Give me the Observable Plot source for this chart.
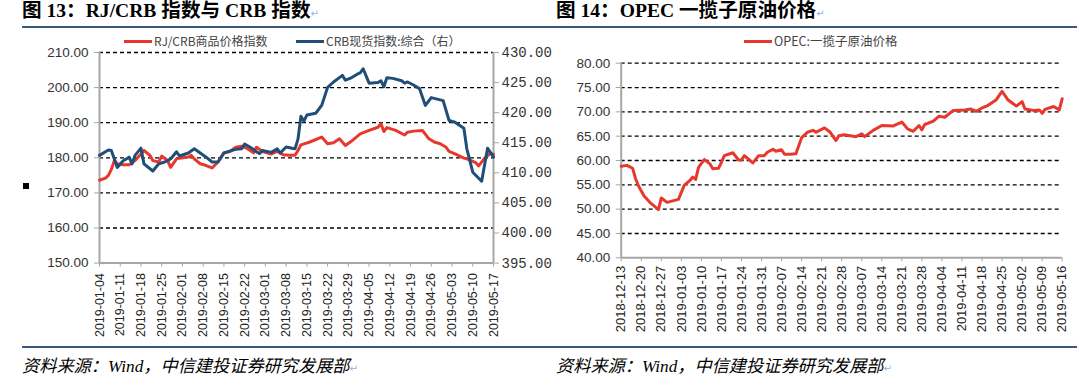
<!DOCTYPE html>
<html><head><meta charset="utf-8">
<script src="https://cdn.jsdelivr.net/npm/d3@7"></script>
<script src="https://cdn.jsdelivr.net/npm/@observablehq/plot@0.6"></script>
<style>
html,body{margin:0;padding:0;background:#fff;}
body{width:1080px;height:385px;position:relative;overflow:hidden;}
.abs{position:absolute;white-space:nowrap;line-height:1;}
.title{font-family:"Liberation Serif","Noto Sans CJK SC",serif;font-weight:bold;font-size:19.6px;color:#000;}
.ret{color:#8fb4e3;font-family:"DejaVu Sans";font-size:10px;font-weight:normal;font-style:normal;}
.rule{position:absolute;height:2px;background:#3c5b7c;}
.legend{font-family:"Noto Sans CJK SC",sans-serif;font-size:12px;color:#444;display:flex;align-items:center;height:14px;}
.sw{display:inline-block;width:28px;height:3px;margin-right:2px;}
.caption{font-family:"Liberation Serif","Noto Sans CJK SC",serif;font-style:italic;font-size:17.2px;color:#000;}
.chart{position:absolute;top:0;width:540px;height:345px;}
</style></head><body>
<div id="leftChart" class="chart" style="left:0"></div>
<div id="rightChart" class="chart" style="left:540px"></div>

<div class="abs title" style="left:22px;top:1px">图 13：RJ/CRB 指数与 CRB 指数<span class="ret">↵</span></div>
<div class="abs title" style="left:556px;top:1px">图 14：OPEC 一揽子原油价格<span class="ret">↵</span></div>
<div class="rule" style="left:22px;top:26px;width:1055px"></div>
<div class="rule" style="left:22px;top:346px;width:1055px"></div>

<div class="abs legend" style="left:124px;top:34px"><span class="sw" style="background:#e8382d"></span>RJ/CRB商品价格指数</div>
<div class="abs legend" style="left:296px;top:34px"><span class="sw" style="background:#1f4e79"></span>CRB现货指数:综合（右）</div>
<div class="abs legend" style="left:744px;top:34px;font-size:12.5px"><span class="sw" style="background:#e8382d"></span>OPEC:一揽子原油价格</div>

<div class="abs" style="left:23px;top:183px;width:6px;height:6px;background:#000"></div>

<div class="abs caption" style="left:22px;top:358px">资料来源：Wind，中信建投证券研究发展部<span class="ret">↵</span></div>
<div class="abs caption" style="left:556px;top:358px">资料来源：Wind，中信建投证券研究发展部<span class="ret">↵</span></div>

<script>
// ---------- Figure 13 data ----------
const leftXTicks = ["2019-01-04","2019-01-11","2019-01-18","2019-01-25","2019-02-01","2019-02-08","2019-02-15","2019-02-22","2019-03-01","2019-03-08","2019-03-15","2019-03-22","2019-03-29","2019-04-05","2019-04-12","2019-04-19","2019-04-26","2019-05-03","2019-05-10","2019-05-17"];
const leftYTicks = [150,160,170,180,190,200,210];
const rightYTicks = [395,400,405,410,415,420,425,430];

const rjDates = ["2019-01-04","2019-01-06","2019-01-07","2019-01-08","2019-01-09","2019-01-10","2019-01-12","2019-01-14","2019-01-16","2019-01-18",
"2019-01-19","2019-01-21","2019-01-22","2019-01-24","2019-01-25","2019-01-27","2019-01-28","2019-01-30","2019-01-31","2019-02-03",
"2019-02-04","2019-02-05","2019-02-07","2019-02-09","2019-02-11","2019-02-13","2019-02-15","2019-02-17","2019-02-19","2019-02-21",
"2019-02-23","2019-02-25","2019-02-26","2019-02-28","2019-03-03","2019-03-05","2019-03-07","2019-03-09","2019-03-11","2019-03-12",
"2019-03-13","2019-03-16","2019-03-20","2019-03-22","2019-03-24","2019-03-26","2019-03-28","2019-03-30","2019-04-02","2019-04-05",
"2019-04-08","2019-04-09","2019-04-10","2019-04-11","2019-04-14","2019-04-17","2019-04-18","2019-04-20","2019-04-23","2019-04-25",
"2019-04-27","2019-04-29","2019-05-01","2019-05-02","2019-05-04","2019-05-07","2019-05-08","2019-05-11","2019-05-12","2019-05-14",
"2019-05-16","2019-05-17"];
const rjValues = [173.6,174.2,175.0,176.7,179.2,178.3,178.0,178.0,179.2,181.1,
182.1,180.7,179.2,178.8,180.5,179.2,177.3,179.7,179.9,180.2,
180.7,179.7,178.3,177.8,177.1,178.8,181.4,181.8,183.0,183.3,
182.6,181.4,183.0,181.8,181.1,181.8,180.9,180.7,180.7,182.1,
183.7,184.5,185.9,184.0,184.3,185.4,183.5,184.7,186.8,187.8,
188.7,189.7,187.5,188.6,187.8,186.5,187.3,187.6,187.8,185.6,
184.5,184.0,183.0,181.8,181.1,179.9,179.7,178.6,177.7,179.9,
181.3,181.0];

const crbDates = ["2019-01-04","2019-01-06","2019-01-07","2019-01-08","2019-01-10","2019-01-12","2019-01-14","2019-01-15","2019-01-16","2019-01-18",
"2019-01-19","2019-01-22","2019-01-24","2019-01-26","2019-01-28","2019-01-30","2019-01-31","2019-02-03","2019-02-05","2019-02-07",
"2019-02-09","2019-02-11","2019-02-13","2019-02-15","2019-02-17","2019-02-19","2019-02-21","2019-02-22","2019-02-24","2019-02-26",
"2019-02-27","2019-02-28","2019-03-03","2019-03-05","2019-03-06","2019-03-08","2019-03-10","2019-03-11","2019-03-12","2019-03-13",
"2019-03-14","2019-03-15","2019-03-18","2019-03-20","2019-03-22","2019-03-24","2019-03-27","2019-03-28","2019-03-30","2019-04-01",
"2019-04-02","2019-04-03","2019-04-05","2019-04-08","2019-04-09","2019-04-10","2019-04-11","2019-04-13","2019-04-16","2019-04-17",
"2019-04-18","2019-04-20","2019-04-22","2019-04-24","2019-04-26","2019-04-30","2019-05-02","2019-05-04","2019-05-07","2019-05-08",
"2019-05-10","2019-05-13","2019-05-15","2019-05-17"];
const crbValues = [412.9,413.5,413.8,413.7,410.9,412.0,412.6,411.5,412.9,414.1,
411.5,410.3,411.5,411.8,412.3,413.5,412.8,413.3,414.0,413.3,
412.6,411.8,411.8,413.3,413.6,413.9,414.0,414.8,414.2,413.5,
413.2,413.7,413.4,414.0,413.3,414.3,414.1,414.0,415.6,419.4,
418.6,419.6,419.9,421.2,424.2,425.1,426.2,425.4,425.8,426.4,
426.6,427.3,424.9,425.0,425.3,424.3,425.8,425.7,425.3,424.9,
425.1,424.6,424.0,421.2,422.5,422.0,418.7,418.4,417.4,414.0,
410.1,408.6,414.1,412.6];

// ---------- Figure 14 data ----------
const opecXTicks = ["2018-12-13","2018-12-20","2018-12-27","2019-01-03","2019-01-10","2019-01-17","2019-01-24","2019-01-31","2019-02-07","2019-02-14","2019-02-21","2019-02-28","2019-03-07","2019-03-14","2019-03-21","2019-03-28","2019-04-04","2019-04-11","2019-04-18","2019-04-25","2019-05-02","2019-05-09","2019-05-16"];
const opecYTicks = [40,45,50,55,60,65,70,75,80];
const opecDates = ["2018-12-13","2018-12-15","2018-12-17","2018-12-18","2018-12-19","2018-12-21","2018-12-23","2018-12-26","2018-12-27","2018-12-29",
"2019-01-02","2019-01-04","2019-01-06","2019-01-07","2019-01-08","2019-01-09","2019-01-11","2019-01-13","2019-01-14","2019-01-16",
"2019-01-17","2019-01-18","2019-01-21","2019-01-23","2019-01-24","2019-01-25","2019-01-27","2019-01-28","2019-01-30","2019-02-01",
"2019-02-02","2019-02-04","2019-02-05","2019-02-07","2019-02-08","2019-02-10","2019-02-12","2019-02-14","2019-02-16","2019-02-18",
"2019-02-19","2019-02-22","2019-02-24","2019-02-26","2019-02-27","2019-03-01","2019-03-05","2019-03-07","2019-03-08","2019-03-11",
"2019-03-14","2019-03-18","2019-03-21","2019-03-23","2019-03-25","2019-03-27","2019-03-28","2019-03-29","2019-04-01","2019-04-03",
"2019-04-05","2019-04-08","2019-04-12","2019-04-14","2019-04-16","2019-04-18","2019-04-20","2019-04-23","2019-04-24","2019-04-25",
"2019-04-27","2019-04-29","2019-04-30","2019-05-02","2019-05-03","2019-05-06","2019-05-08","2019-05-09","2019-05-10","2019-05-13",
"2019-05-15","2019-05-16"];
const opecValues = [58.8,59.0,58.4,56.3,54.8,52.7,51.4,49.9,52.3,51.4,
52.0,54.9,55.9,56.6,56.1,58.6,60.2,59.3,58.3,58.4,
59.6,61.0,61.6,60.1,60.1,61.0,60.0,59.5,61.0,61.0,
61.7,62.3,61.9,62.2,61.3,61.3,61.4,64.7,65.8,66.2,
65.8,66.7,65.8,64.1,65.1,65.3,64.9,65.5,64.9,66.2,
67.2,67.1,67.9,66.5,66.0,67.2,66.3,67.4,68.1,69.1,
68.9,70.3,70.4,70.6,70.1,70.8,71.3,72.5,73.4,74.2,
72.5,71.6,71.2,72.1,70.6,70.3,70.4,69.7,70.5,71.1,
70.4,72.7];

// ---------- build ----------
const P = d3.utcParse("%Y-%m-%d");
const fmt = d3.utcFormat("%Y-%m-%d");
const RED = "#e8382d", BLUE = "#1f4e79", AXIS = "#a6a6a6";
const L0 = leftYTicks[0], L1 = leftYTicks[leftYTicks.length-1];
const R0 = rightYTicks[0], R1 = rightYTicks[rightYTicks.length-1];
const toLeft = v => L0 + (v - R0) * (L1 - L0) / (R1 - R0);
const toRight = v => R0 + (v - L0) * (R1 - R0) / (L1 - L0);

const rj = rjDates.map((d,i) => ({date: P(d), value: rjValues[i]}));
const crb = crbDates.map((d,i) => ({date: P(d), value: toLeft(crbValues[i])}));
const opec = opecDates.map((d,i) => ({date: P(d), value: opecValues[i]}));

const commonStyle = {background: "transparent", overflow: "visible", fontFamily: "'Liberation Sans', Arial, sans-serif"};

const lx0 = P(leftXTicks[0]), lx1 = P(leftXTicks[leftXTicks.length-1]);
const left = Plot.plot({
  width: 540, height: 345,
  marginLeft: 99, marginRight: 47, marginTop: 52, marginBottom: 82.4,
  style: commonStyle,
  x: {type: "utc", domain: [lx0, lx1]},
  y: {domain: [L0, L1]},
  marks: [
    Plot.ruleY(leftYTicks.filter(v => v > L0), {stroke: "#000", strokeWidth: 1.3, strokeDasharray: "4,3"}),
    Plot.ruleX([lx0], {stroke: AXIS, strokeWidth: 2}),
    Plot.ruleX([lx1], {stroke: AXIS, strokeWidth: 2}),
    Plot.ruleY([L0], {stroke: AXIS, strokeWidth: 2}),
    Plot.axisY(leftYTicks, {anchor: "left", label: null, tickFormat: d => d.toFixed(2), tickSize: 5, tickPadding: 6, fontSize: 13.5, stroke: AXIS, fill: "#333"}),
    Plot.axisY(rightYTicks.map(toLeft), {anchor: "right", label: null, tickFormat: d => toRight(d).toFixed(2), tickSize: 5, tickPadding: 3, fontSize: 14, fontFamily: "'Liberation Mono', monospace", stroke: AXIS, fill: "#333"}),
    Plot.axisX(leftXTicks.map(P), {anchor: "bottom", label: null, tickRotate: -90, tickFormat: fmt, tickSize: 4, tickPadding: 6, fontSize: 12.5, stroke: AXIS, fill: "#222"}),
    Plot.lineY(rj, {x: "date", y: "value", stroke: RED, strokeWidth: 3}),
    Plot.lineY(crb, {x: "date", y: "value", stroke: BLUE, strokeWidth: 3})
  ]
});
document.getElementById("leftChart").appendChild(left);

const rx0 = P(opecXTicks[0]), rx1 = P(opecXTicks[opecXTicks.length-1]);
const O0 = opecYTicks[0], O1 = opecYTicks[opecYTicks.length-1];
const right = Plot.plot({
  width: 540, height: 345,
  marginLeft: 80.7, marginRight: 18.3, marginTop: 62.7, marginBottom: 87.7,
  style: commonStyle,
  x: {type: "utc", domain: [rx0, rx1]},
  y: {domain: [O0, O1]},
  marks: [
    Plot.ruleY(opecYTicks.filter(v => v > O0), {stroke: "#000", strokeWidth: 1.3, strokeDasharray: "4,3"}),
    Plot.ruleX([rx0], {stroke: AXIS, strokeWidth: 2}),
    Plot.ruleY([O0], {stroke: AXIS, strokeWidth: 2}),
    Plot.axisY(opecYTicks, {anchor: "left", label: null, tickFormat: d => d.toFixed(2), tickSize: 5, tickPadding: 6, fontSize: 13.5, stroke: AXIS, fill: "#333"}),
    Plot.axisX(opecXTicks.map(P), {anchor: "bottom", label: null, tickRotate: -90, tickFormat: fmt, tickSize: 4, tickPadding: 4, fontSize: 13, stroke: AXIS, fill: "#222"}),
    Plot.lineY(opec, {x: "date", y: "value", stroke: RED, strokeWidth: 3})
  ]
});
document.getElementById("rightChart").appendChild(right);
</script>
</body></html>
